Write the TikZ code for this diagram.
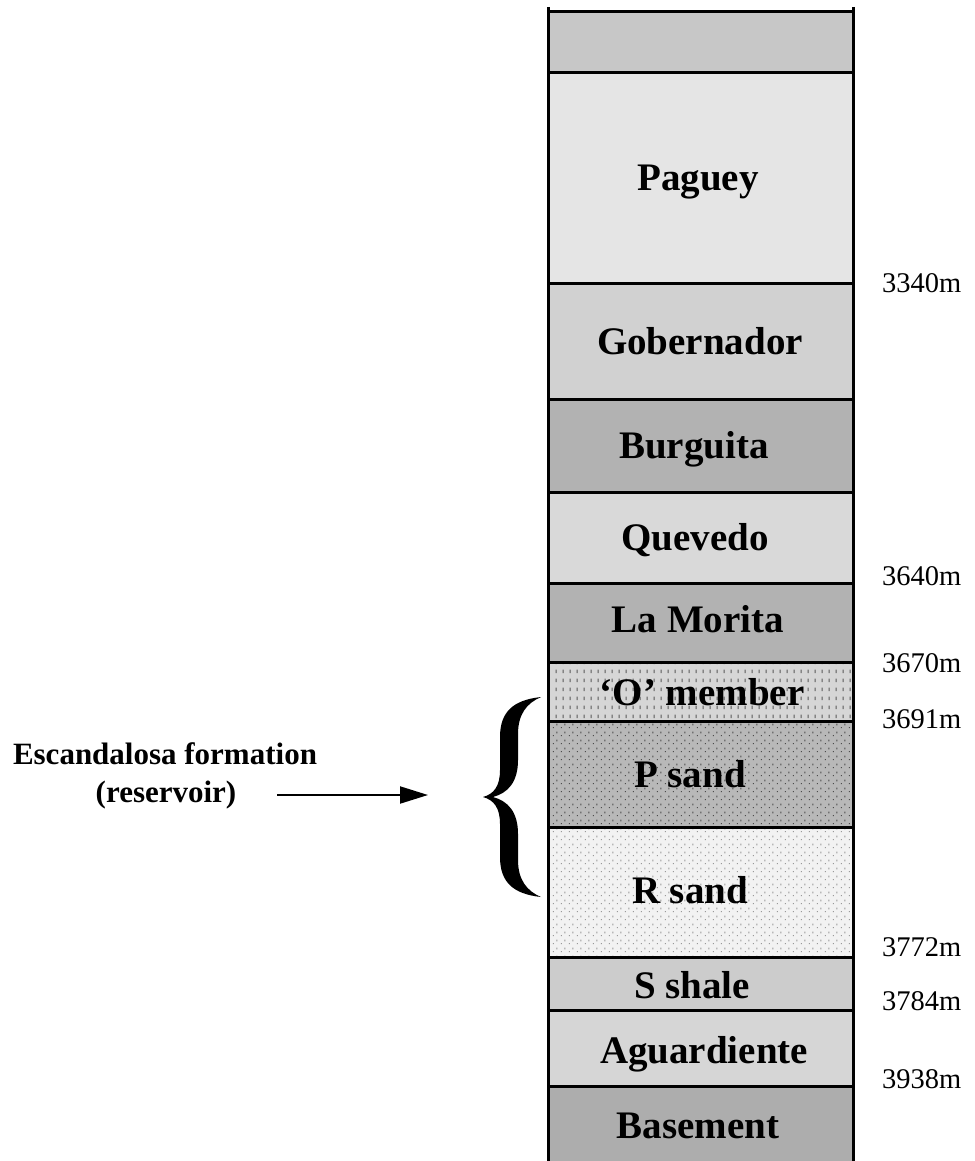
\documentclass[tikz,border=0pt]{standalone}
\usepackage{fontspec}
\setmainfont{Liberation Serif}
\usetikzlibrary{arrows.meta,patterns}

% grey tones of the column
\definecolor{topbed}{gray}{0.78}
\definecolor{pagueyc}{gray}{0.90}
\definecolor{gobernc}{gray}{0.82}
\definecolor{burguic}{gray}{0.70}
\definecolor{quevedc}{gray}{0.85}
\definecolor{moritac}{gray}{0.70}
\definecolor{omemc}{gray}{0.84}
\definecolor{psandc}{gray}{0.72}
\definecolor{rsandc}{gray}{0.95}
\definecolor{shalec}{gray}{0.80}
\definecolor{aguarc}{gray}{0.84}
\definecolor{basemc}{gray}{0.68}

% sand textures
\pgfdeclarepatternformonly{vticks}{\pgfqpoint{0pt}{0pt}}{\pgfqpoint{7pt}{9pt}}{\pgfqpoint{7pt}{9pt}}{%
  \pgfpathrectangle{\pgfqpoint{3pt}{2pt}}{\pgfqpoint{1pt}{4pt}}\pgfusepath{fill}}
\pgfdeclarepatternformonly{specks}{\pgfqpoint{0pt}{0pt}}{\pgfqpoint{8pt}{8pt}}{\pgfqpoint{8pt}{8pt}}{%
  \pgfpathrectangle{\pgfqpoint{1pt}{1pt}}{\pgfqpoint{1pt}{1pt}}\pgfusepath{fill}
  \pgfpathrectangle{\pgfqpoint{5pt}{4pt}}{\pgfqpoint{1pt}{2pt}}\pgfusepath{fill}}

\begin{document}
\begin{tikzpicture}[x=1pt,y=-1pt,
  unit/.style={font=\fontsize{39}{39}\selectfont\bfseries,anchor=base,inner sep=0pt},
  depth/.style={font=\fontsize{28.5}{28.5}\selectfont,anchor=base west,inner sep=0pt},
  side/.style={font=\fontsize{31}{31}\selectfont\bfseries,anchor=base,inner sep=0pt},
  contact/.style={line width=3pt}]
	\useasboundingbox (0,0) rectangle (974,1161);

	% layers
	\fill[topbed] (548,12) rectangle (853,73);
	\fill[pagueyc] (548,73) rectangle (853,283);
	\fill[gobernc] (548,283) rectangle (853,399);
	\fill[burguic] (548,399) rectangle (853,492);
	\fill[quevedc] (548,492) rectangle (853,583);
	\fill[moritac] (548,583) rectangle (853,662);
	\fill[omemc] (548,662) rectangle (853,721);
	\fill[pattern=vticks, pattern color=gray!70!black] (548,662) rectangle (853,721);
	\fill[psandc] (548,721) rectangle (853,827);
	\fill[pattern=specks, pattern color=gray!60!black] (548,721) rectangle (853,827);
	\fill[rsandc] (548,827) rectangle (853,957);
	\fill[pattern=specks, pattern color=gray!80] (548,827) rectangle (853,957);
	\fill[shalec] (548,957) rectangle (853,1010);
	\fill[aguarc] (548,1010) rectangle (853,1086);
	\fill[basemc] (548,1086) rectangle (853,1161);

	% contacts
	\draw[contact] (548,12) -- (853,12);
	\draw[contact] (548,73) -- (853,73);
	\draw[contact] (548,283) -- (853,283);
	\draw[contact] (548,399) -- (853,399);
	\draw[contact] (548,492) -- (853,492);
	\draw[contact] (548,583) -- (853,583);
	\draw[contact] (548,662) -- (853,662);
	\draw[contact] (548,721) -- (853,721);
	\draw[contact] (548,827) -- (853,827);
	\draw[contact] (548,957) -- (853,957);
	\draw[contact] (548,1010) -- (853,1010);
	\draw[contact] (548,1086) -- (853,1086);

	% column sides
	\draw[contact] (548,7) -- (548,1161);
	\draw[contact] (853,7) -- (853,1161);

	% formation names
	\node[unit] (paguey) at (698,191) {Paguey};
	\node[unit] (gobern) at (700,354) {Gobernador};
	\node[unit] (burgui) at (694,458) {Burguita};
	\node[unit] (queved) at (695,550) {Quevedo};
	\node[unit] (morita) at (698,632) {La Morita};
	\node[unit] (omember) at (702,705) {‘O’ member};
	\node[unit] (psand) at (690,787) {P sand};
	\node[unit] (rsand) at (690,903) {R sand};
	\node[unit] (sshale) at (692,998) {S shale};
	\node[unit] (aguard) at (704,1063) {Aguardiente};
	\node[unit] (basem) at (698,1138) {Basement};

	% depths
	\node[depth] (d3340) at (882,292) {3340m};
	\node[depth] (d3640) at (882,585) {3640m};
	\node[depth] (d3670) at (882,672) {3670m};
	\node[depth] (d3691) at (882,728) {3691m};
	\node[depth] (d3772) at (882,956) {3772m};
	\node[depth] (d3784) at (882,1010) {3784m};
	\node[depth] (d3938) at (882,1088) {3938m};

	% reservoir
	\node[side] (escand) at (165,764) {Escandalosa formation};
	\node[side] (reserv) at (166,802) {(reservoir)};
	\coordinate (bracetip) at (428,795);
	\draw[line width=2pt, -{Triangle[length=28pt,width=17pt]}] ([xshift=41pt]reserv.east |- bracetip) -- (bracetip);

	% brace
	\fill (541,697) .. controls (513,700) and (500,712) .. (500,737)
		-- (500,770) .. controls (500,786) and (494,794) .. (483,797)
		.. controls (494,800) and (500,808) .. (500,824)
		-- (500,857) .. controls (500,882) and (513,894) .. (541,897)
		.. controls (527,891) and (518,880) .. (518,860)
		-- (518,834) .. controls (518,812) and (508,801) .. (493,797)
		.. controls (508,793) and (518,782) .. (518,760)
		-- (518,734) .. controls (518,714) and (527,703) .. (541,697) -- cycle;
\end{tikzpicture}
\end{document}
